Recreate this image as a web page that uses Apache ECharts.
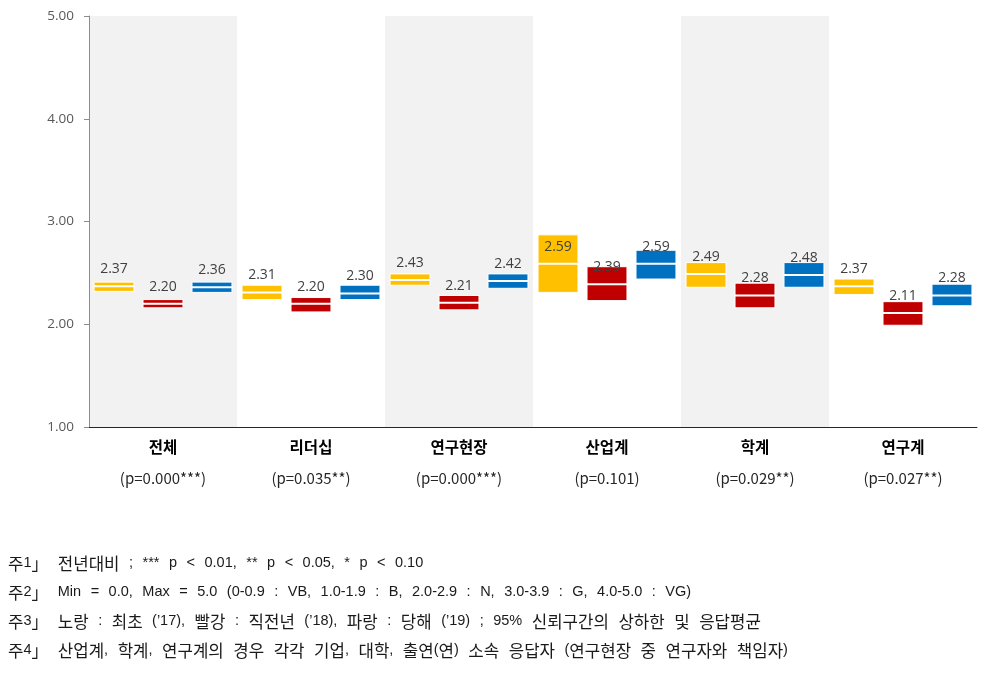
<!DOCTYPE html>
<html><head><meta charset="utf-8">
<script src="https://cdn.jsdelivr.net/npm/echarts@6/dist/echarts.min.js"></script>
<style>html,body{margin:0;padding:0;background:#fff}#c{width:997px;height:675px}</style>
</head><body><div id="c"></div>
<script>
const categories = ['전체','리더십','연구현장','산업계','학계','연구계'];
const pValues = ['(p=0.000***)','(p=0.035**)','(p=0.000***)','(p=0.101)','(p=0.029**)','(p=0.027**)'];
const mean17 = [2.37,2.31,2.43,2.59,2.49,2.37];
const low17  = [2.32,2.24,2.38,2.31,2.36,2.29];
const high17 = [2.41,2.38,2.49,2.87,2.60,2.44];
const mean18 = [2.20,2.20,2.21,2.39,2.28,2.11];
const low18  = [2.16,2.12,2.14,2.23,2.16,1.99];
const high18 = [2.24,2.26,2.28,2.56,2.40,2.22];
const mean19 = [2.36,2.30,2.42,2.59,2.48,2.28];
const low19  = [2.31,2.24,2.35,2.44,2.36,2.18];
const high19 = [2.41,2.38,2.49,2.72,2.60,2.39];
const yTicks = [1,2,3,4,5];
const notes = [
  '주1」 전년대비 ; *** p < 0.01, ** p < 0.05, * p < 0.10',
  '주2」 Min = 0.0, Max = 5.0 (0-0.9 : VB, 1.0-1.9 : B, 2.0-2.9 : N, 3.0-3.9 : G, 4.0-5.0 : VG)',
  '주3」 노랑 : 최초 (’17), 빨강 : 직전년 (’18), 파랑 : 당해 (’19) ; 95% 신뢰구간의 상하한 및 응답평균',
  '주4」 산업계, 학계, 연구계의 경우 각각 기업, 대학, 출연(연) 소속 응답자 (연구현장 중 연구자와 책임자)'
];

const KR = /[\u3000-\u303f\u3130-\u318f\uac00-\ud7af]/;
function toRich(s){
  const parts = s.match(/ |[\u3000-\u303f\u3130-\u318f\uac00-\ud7af]+|[^ \u3000-\u303f\u3130-\u318f\uac00-\ud7af]+/g);
  return parts.map(x => x === ' ' ? '{s| }' : (KR.test(x) ? '{k|'+x+'}' : '{l|'+x+'}')).join('');
}
function build(low, high, mean){
  return categories.map((c,i)=>[i, low[i], high[i], mean[i]]);
}
function makeRender(offset, color){
  return function(params, api){
    const m = api.coord([api.value(0), api.value(3)]);
    const lo = api.coord([api.value(0), api.value(1)]);
    const hi = api.coord([api.value(0), api.value(2)]);
    const band = api.size([1,0])[0];
    const w = band*0.27;
    const cx = m[0] + offset*band;
    return {type:'group', children:[
      {type:'rect', shape:{x:cx-w/2, y:hi[1], width:w, height:lo[1]-hi[1]},
       style:{fill:color, stroke:'#ffffff', lineWidth:1}},
      {type:'line', shape:{x1:cx-w/2, y1:m[1], x2:cx+w/2, y2:m[1]},
       style:{stroke:'#ffffff', lineWidth:2}},
      {type:'text', x:cx, y:m[1]-17, style:{text:api.value(3).toFixed(2), align:'center', verticalAlign:'middle',
       fill:'#404040', font:'14px "Open Sans", "Noto Sans", sans-serif'}}
    ]};
  };
}
const series = [
  {type:'custom', name:'17', renderItem:makeRender(-0.331,'#FFC000'), encode:{x:0,y:[1,2,3]}, data:build(low17,high17,mean17), z:5},
  {type:'custom', name:'18', renderItem:makeRender(0,'#C00000'), encode:{x:0,y:[1,2,3]}, data:build(low18,high18,mean18), z:5},
  {type:'custom', name:'19', renderItem:makeRender(0.331,'#0070C0'), encode:{x:0,y:[1,2,3]}, data:build(low19,high19,mean19), z:5}
];
const chart = echarts.init(document.getElementById('c'));
chart.setOption({
  animation:false,
  grid:{left:89, right:20, top:16, bottom:248},
  xAxis:{type:'category', data:categories,
    axisLine:{lineStyle:{color:'#262626', width:1}}, axisTick:{show:false},
    splitArea:{show:true, areaStyle:{color:['#F2F2F2','rgba(255,255,255,0)']}},
    axisLabel:{interval:0, margin:5, formatter:(v,i)=>'{b|'+v+'}\n{p|'+pValues[i]+'}',
      rich:{b:{fontWeight:'bold', fontSize:15.5, lineHeight:31, color:'#000', fontFamily:'"Noto Sans CJK KR", sans-serif'},
            p:{fontSize:15, lineHeight:31, color:'#262626', fontFamily:'"Noto Sans CJK KR", sans-serif'}}}},
  yAxis:{type:'value', min:yTicks[0], max:yTicks[yTicks.length-1], interval:1,
    axisLine:{show:true, lineStyle:{color:'#8c8c8c'}}, axisTick:{show:true, length:5, lineStyle:{color:'#8c8c8c'}},
    splitLine:{show:false},
    axisLabel:{formatter:v=>v.toFixed(2), color:'#595959', fontSize:13.5, margin:15, fontFamily:'"Open Sans", sans-serif'}},
  graphic: notes.map((t,i)=>({type:'text', left:8, top:555+i*29, style:{text:toRich(t), fill:'#1a1a1a',
    rich:{
      k:{fontSize:16.8, lineHeight:20, fill:'#1a1a1a', fontFamily:'"Noto Sans CJK KR", sans-serif', verticalAlign:'middle'},
      l:{fontSize:14.5, lineHeight:20, fill:'#1a1a1a', fontFamily:'"Liberation Sans", Arial, sans-serif', verticalAlign:'middle'},
      s:{fontSize:13.5, lineHeight:20, width:9.5, fontFamily:'"Liberation Sans", Arial, sans-serif', verticalAlign:'middle'}
    }}})),
  series: series
});
</script></body></html>
